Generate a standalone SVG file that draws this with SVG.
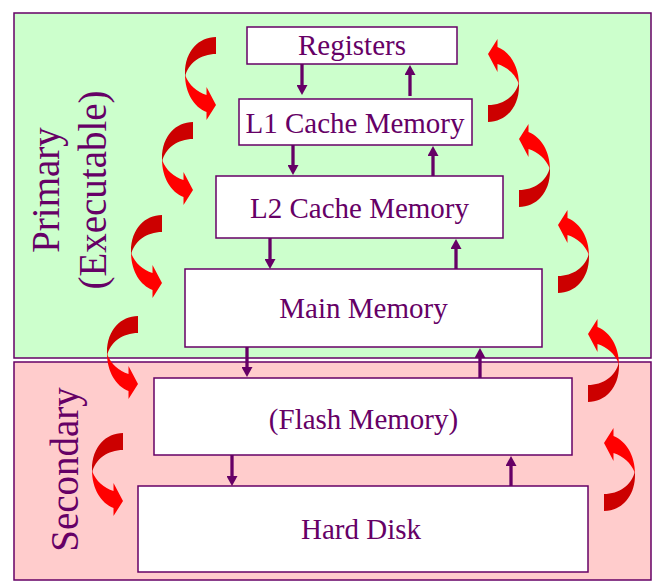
<svg xmlns="http://www.w3.org/2000/svg" width="667" height="587" viewBox="0 0 667 587">
<defs>
<style>
.panel{stroke:#660066;stroke-width:1.5}
.box{fill:#ffffff;stroke:#660066;stroke-width:1.5}
.lbl{font-family:"Liberation Serif","Times New Roman",serif;font-size:29px;fill:#660066;text-anchor:middle}
.side{font-family:"Liberation Serif","Times New Roman",serif;font-size:39px;fill:#660066;text-anchor:middle}
.conn{stroke:#660066;stroke-width:3.3;fill:none;marker-end:url(#ah)}
.dark{fill:#cc0000}
.bright{fill:#ff0000}
</style>
<marker id="ah" viewBox="0 0 10 11" markerWidth="10" markerHeight="11" refX="2" refY="5.5" orient="auto" markerUnits="userSpaceOnUse">
<path d="M0,0 L10,5.5 L0,11 Z" fill="#660066"/>
</marker>
<g id="cArrow">
<path class="dark" d="M0,0 C-17,0 -31,14 -31,36 L-31,40 C-28,26 -15,17 0,17 Z"/>
<path class="bright" d="M-31,37 C-31,56 -22,70 -9.5,75 L-9.5,83 L0,68 L-9.5,50 L-9.5,58 C-19,55 -27,48 -30.5,39 Z"/>
</g>
</defs>
<rect width="667" height="587" fill="#ffffff"/>
<g id="primary-panel">
<rect class="panel" x="14" y="13" width="637" height="345" fill="#ccffcc"/>
<text class="side" transform="translate(59,190) rotate(-90)">Primary</text>
<text class="side" transform="translate(106,190) rotate(-90)">(Executable)</text>
</g>
<g id="secondary-panel">
<rect class="panel" x="14" y="362" width="637" height="218" fill="#ffcccc"/>
<text class="side" transform="translate(78,469.5) rotate(-90)">Secondary</text>
</g>
<g id="registers">
<rect class="box" x="247" y="27" width="210" height="37"/>
<text class="lbl" x="352" y="55">Registers</text>
</g>
<g id="l1">
<rect class="box" x="239" y="99" width="233" height="46"/>
<text class="lbl" x="355" y="133">L1 Cache Memory</text>
</g>
<g id="l2">
<rect class="box" x="216" y="176" width="287" height="62"/>
<text class="lbl" x="359.5" y="218">L2 Cache Memory</text>
</g>
<g id="main">
<rect class="box" x="185" y="269" width="357" height="78"/>
<text class="lbl" x="363.5" y="318">Main Memory</text>
</g>
<g id="flash">
<rect class="box" x="154" y="378" width="418" height="77"/>
<text class="lbl" x="363.5" y="429">(Flash Memory)</text>
</g>
<g id="harddisk">
<rect class="box" x="138" y="486" width="450" height="86"/>
<text class="lbl" x="361" y="539">Hard Disk</text>
</g>
<g id="connectors">
<line class="conn" x1="302" y1="64" x2="302" y2="87"/>
<line class="conn" x1="293" y1="145" x2="293" y2="167"/>
<line class="conn" x1="270" y1="238" x2="270" y2="261"/>
<line class="conn" x1="247" y1="347" x2="247" y2="369"/>
<line class="conn" x1="232" y1="455" x2="232" y2="478"/>
<line class="conn" x1="410" y1="96" x2="410" y2="73"/>
<line class="conn" x1="433" y1="176" x2="433" y2="154"/>
<line class="conn" x1="456" y1="269" x2="456" y2="247"/>
<line class="conn" x1="480" y1="378" x2="480" y2="356"/>
<line class="conn" x1="511" y1="486" x2="511" y2="464"/>
</g>
<g id="red-arrows">
<use href="#cArrow" transform="translate(216,37)"/>
<use href="#cArrow" transform="translate(193,122)"/>
<use href="#cArrow" transform="translate(162,215)"/>
<use href="#cArrow" transform="translate(138,316)"/>
<use href="#cArrow" transform="translate(123,433)"/>
<use href="#cArrow" transform="translate(488,122) rotate(180)"/>
<use href="#cArrow" transform="translate(519,207) rotate(180)"/>
<use href="#cArrow" transform="translate(558,293) rotate(180)"/>
<use href="#cArrow" transform="translate(588,402) rotate(180)"/>
<use href="#cArrow" transform="translate(604,511) rotate(180)"/>
</g>
</svg>
